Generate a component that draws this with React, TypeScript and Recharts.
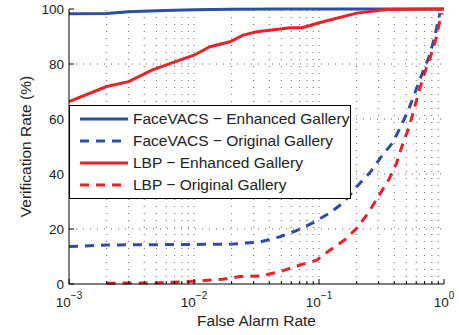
import React from "react";
import { LineChart, Line, XAxis, YAxis, ReferenceLine } from "recharts";

// False alarm rate (x) and verification rate in % (y) for each curve
const faceEnhFar = [0.001, 0.002, 0.003, 0.005, 0.01, 0.02, 0.05, 0.1, 1];
const faceEnhRate = [98.3, 98.4, 99.0, 99.4, 99.7, 99.9, 100, 100, 100];

const faceOrigFar = [0.001, 0.002, 0.005, 0.01, 0.02, 0.0337, 0.0488, 0.066, 0.09, 0.1225, 0.16, 0.2, 0.256, 0.308, 0.39, 0.45, 0.52, 0.59, 0.66, 0.76, 0.84, 0.9, 0.93];
const faceOrigRate = [13.6, 14.2, 14.3, 14.4, 14.5, 15.3, 17.2, 19.4, 22.3, 25.9, 29.9, 35.4, 40.5, 45.7, 51.5, 57.2, 63.3, 70, 75.8, 82.7, 89.5, 96, 98.5];

const lbpEnhFar = [0.001, 0.002, 0.003, 0.0046, 0.007, 0.01, 0.0134, 0.0194, 0.0247, 0.0318, 0.0488, 0.0586, 0.073, 0.085, 0.102, 0.2, 0.35, 1];
const lbpEnhRate = [66.3, 71.8, 73.6, 77.8, 80.8, 83.2, 86.3, 88.1, 90.5, 91.7, 92.7, 93.2, 93.2, 94, 95.1, 98.5, 99.8, 100];

const lbpOrigFar = [0.002, 0.005, 0.008, 0.01, 0.017, 0.0233, 0.0337, 0.0488, 0.066, 0.096, 0.1225, 0.16, 0.2, 0.248, 0.298, 0.36, 0.417, 0.46, 0.52, 0.57, 0.63, 0.69, 0.78, 0.86, 0.93, 0.97];
const lbpOrigRate = [0.3, 0.4, 0.8, 1.0, 1.7, 2.7, 2.9, 4.5, 6.5, 8.7, 12.4, 16, 20.2, 25.9, 31.8, 37.8, 43.9, 50, 56.5, 62.7, 70, 76, 82.7, 89, 96, 98.5];

const majorTicks = [0.001, 0.01, 0.1, 1];
const minorTicks = [
  0.002, 0.003, 0.004, 0.005, 0.006, 0.007, 0.008, 0.009,
  0.02, 0.03, 0.04, 0.05, 0.06, 0.07, 0.08, 0.09,
  0.2, 0.3, 0.4, 0.5, 0.6, 0.7, 0.8, 0.9,
];
const yTicks = [0, 20, 40, 60, 80, 100];
const yGrid = [20, 40, 60, 80];

const BLUE = "#2c4ea6";
const RED = "#ee2027";
const FONT = "'Liberation Sans', Arial, sans-serif";

const toPoints = (far: number[], rate: number[]) => far.map((x, i) => ({ x, y: rate[i] }));

const series = [
  { name: "FaceVACS \u2212 Enhanced Gallery", data: toPoints(faceEnhFar, faceEnhRate), color: BLUE, dashed: false },
  { name: "FaceVACS \u2212 Original Gallery", data: toPoints(faceOrigFar, faceOrigRate), color: BLUE, dashed: true },
  { name: "LBP \u2212 Enhanced Gallery", data: toPoints(lbpEnhFar, lbpEnhRate), color: RED, dashed: false },
  { name: "LBP \u2212 Original Gallery", data: toPoints(lbpOrigFar, lbpOrigRate), color: RED, dashed: true },
];

const allXTicks = [...majorTicks, ...minorTicks].sort((a, b) => a - b);

const expLabel = (v: number) => {
  const e = Math.round(Math.log10(v));
  return e < 0 ? "\u2212" + Math.abs(e) : String(e);
};

const BottomTick = ({ x, y, payload }: any) => {
  const v = payload.value;
  const major = majorTicks.includes(v);
  return (
    <g>
      <line x1={x} x2={x} y1={y} y2={y - (major ? 5 : 3)} stroke="#000" />
      {major && (
        <text x={x} y={y + 23} textAnchor="middle" fontSize={13.5} fill="#222" fontFamily={FONT}>
          10
          <tspan dy={-8} fontSize={10}>{expLabel(v)}</tspan>
        </text>
      )}
    </g>
  );
};

const TopTick = ({ x, y, payload }: any) => {
  const major = majorTicks.includes(payload.value);
  return <line x1={x} x2={x} y1={y} y2={y + (major ? 5 : 3)} stroke="#000" />;
};

const LeftTick = ({ x, y, payload }: any) => (
  <g>
    <line x1={x} x2={x + 5} y1={y} y2={y} stroke="#000" />
    <text x={x - 5} y={y} dy={5} textAnchor="end" fontSize={13.5} fill="#222" fontFamily={FONT}>
      {payload.value}
    </text>
  </g>
);

const RightTick = ({ x, y }: any) => <line x1={x} x2={x - 5} y1={y} y2={y} stroke="#000" />;

function ChartLegend() {
  return (
    <div
      style={{
        position: "absolute",
        left: 69,
        top: 105,
        width: 280,
        height: 92,
        border: "1px solid #000",
        background: "#fff",
        fontFamily: FONT,
        fontSize: 15.5,
        color: "#222",
      }}
    >
      {series.map((s, i) => (
        <div
          key={s.name}
          style={{ position: "absolute", left: 10, top: 2 + i * 22, height: 22, display: "flex", alignItems: "center", whiteSpace: "nowrap" }}
        >
          <svg width={48} height={6} style={{ marginRight: 5 }}>
            <line x1={0} x2={48} y1={3} y2={3} stroke={s.color} strokeWidth={3} strokeDasharray={s.dashed ? "9 7" : undefined} />
          </svg>
          <span>{s.name}</span>
        </div>
      ))}
    </div>
  );
}

export default function App() {
  return (
    <div style={{ position: "absolute", left: 0, top: 0, width: 459, height: 335, background: "#fff" }}>
      <LineChart width={459} height={335} margin={{ top: 9, right: 15, bottom: 0, left: 0 }}>
        <XAxis
          dataKey="x"
          type="number"
          scale="log"
          domain={[0.001, 1]}
          allowDataOverflow
          ticks={allXTicks}
          interval={0}
          tick={<BottomTick />}
          tickSize={0}
          tickMargin={0}
          tickLine={false}
          axisLine={{ stroke: "#000" }}
          height={51}
        />
        <XAxis
          xAxisId="top"
          orientation="top"
          dataKey="x"
          type="number"
          scale="log"
          domain={[0.001, 1]}
          allowDataOverflow
          ticks={allXTicks}
          interval={0}
          tick={<TopTick />}
          tickSize={0}
          tickMargin={0}
          tickLine={false}
          axisLine={{ stroke: "#000" }}
          height={0}
        />
        <YAxis
          type="number"
          domain={[0, 100]}
          ticks={yTicks}
          interval={0}
          tick={<LeftTick />}
          tickSize={0}
          tickMargin={0}
          tickLine={false}
          axisLine={{ stroke: "#000" }}
          width={69}
          label={{
            value: "Verification Rate (%)",
            angle: -90,
            position: "insideLeft",
            offset: 0,
            style: { fontSize: 15.5, fill: "#222", fontFamily: FONT, textAnchor: "middle" },
            dx: 25,
          }}
        />
        <YAxis
          yAxisId="right"
          orientation="right"
          type="number"
          domain={[0, 100]}
          ticks={yTicks}
          interval={0}
          tick={<RightTick />}
          tickSize={0}
          tickMargin={0}
          tickLine={false}
          axisLine={{ stroke: "#000" }}
          width={0}
        />
        {minorTicks.concat([0.01, 0.1]).map((v) => (
          <ReferenceLine key={"vx" + v} x={v} stroke="#666" strokeDasharray="1 6" />
        ))}
        {yGrid.map((v) => (
          <ReferenceLine key={"hy" + v} y={v} stroke="#666" strokeDasharray="1 6" />
        ))}
        {series.map((s) => (
          <Line
            key={s.name}
            data={s.data}
            dataKey="y"
            type="linear"
            stroke={s.color}
            strokeWidth={3}
            strokeDasharray={s.dashed ? "9 7" : undefined}
            dot={false}
            activeDot={false}
            isAnimationActive={false}
          />
        ))}
      </LineChart>
      <div
        style={{
          position: "absolute",
          left: 69,
          width: 375,
          top: 312,
          textAlign: "center",
          fontFamily: FONT,
          fontSize: 15.5,
          color: "#222",
        }}
      >
        False Alarm Rate
      </div>
      <ChartLegend />
    </div>
  );
}
